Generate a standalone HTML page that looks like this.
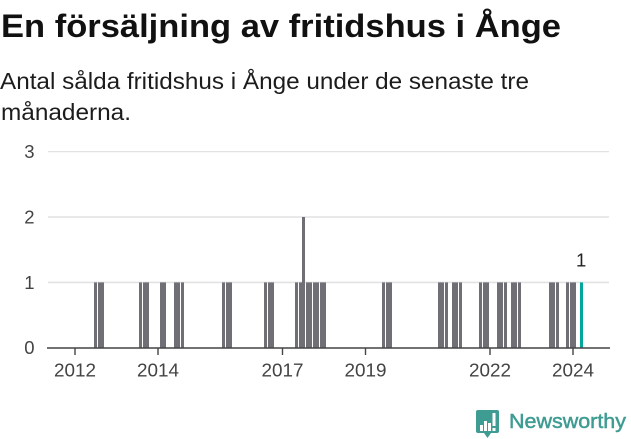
<!DOCTYPE html>
<html lang="sv">
<head>
<meta charset="utf-8">
<title>En försäljning av fritidshus i Ånge</title>
<style>
html,body{margin:0;padding:0;background:#fff;}
body{width:631px;height:439px;overflow:hidden;font-family:"Liberation Sans",sans-serif;}
svg{display:block;}
text{font-family:"Liberation Sans",sans-serif;}
</style>
</head>
<body>
<svg id="chart" xmlns="http://www.w3.org/2000/svg" width="631" height="439" viewBox="0 0 631 439">
  <text x="1" y="37" font-size="32.500" font-weight="700" fill="#111" textLength="560" lengthAdjust="spacingAndGlyphs">En försäljning av fritidshus i Ånge</text>
  <text x="0" y="89" font-size="23.500" fill="#1c1c1c" textLength="529" lengthAdjust="spacingAndGlyphs">Antal sålda fritidshus i Ånge under de senaste tre</text>
  <text x="1" y="120" font-size="23.500" fill="#1c1c1c" textLength="130" lengthAdjust="spacingAndGlyphs">månaderna.</text>
  <g id="grid"></g>
  <g id="bars"></g>
  <g id="axes"></g>
  <g>
    <path d="M478 410H497Q499 410 499 412V431Q499 433 497 433H491L487.500 438L484 433H478Q476 433 476 431V412Q476 410 478 410Z" fill="#3f9c93"/>
    <rect x="480" y="425" width="3" height="6" fill="#fff"/>
    <rect x="484" y="421" width="3" height="10" fill="#fff"/>
    <rect x="488" y="423" width="3" height="8" fill="#fff"/>
    <rect x="492.500" y="413" width="3" height="13" fill="#fff"/>
    <rect x="492.500" y="428" width="3" height="3" fill="#fff"/>
    <text x="509" y="428" font-size="20.500" fill="#3f9c93" stroke="#3f9c93" stroke-width="0.5" textLength="117" lengthAdjust="spacingAndGlyphs">Newsworthy</text>
  </g>
</svg>
<script>
var months = [
  "2012-07","2012-08","2012-09","2012-10","2012-11","2012-12",
  "2013-01","2013-02","2013-03","2013-04","2013-05","2013-06","2013-07","2013-08","2013-09","2013-10","2013-11","2013-12",
  "2014-01","2014-02","2014-03","2014-04","2014-05","2014-06","2014-07","2014-08","2014-09","2014-10","2014-11","2014-12",
  "2015-01","2015-02","2015-03","2015-04","2015-05","2015-06","2015-07","2015-08","2015-09","2015-10","2015-11","2015-12",
  "2016-01","2016-02","2016-03","2016-04","2016-05","2016-06","2016-07","2016-08","2016-09","2016-10","2016-11","2016-12",
  "2017-01","2017-02","2017-03","2017-04","2017-05","2017-06","2017-07","2017-08","2017-09","2017-10","2017-11","2017-12",
  "2018-01","2018-02","2018-03","2018-04","2018-05","2018-06","2018-07","2018-08","2018-09","2018-10","2018-11","2018-12",
  "2019-01","2019-02","2019-03","2019-04","2019-05","2019-06","2019-07","2019-08","2019-09","2019-10","2019-11","2019-12",
  "2020-01","2020-02","2020-03","2020-04","2020-05","2020-06","2020-07","2020-08","2020-09","2020-10","2020-11","2020-12",
  "2021-01","2021-02","2021-03","2021-04","2021-05","2021-06","2021-07","2021-08","2021-09","2021-10","2021-11","2021-12",
  "2022-01","2022-02","2022-03","2022-04","2022-05","2022-06","2022-07","2022-08","2022-09","2022-10","2022-11","2022-12",
  "2023-01","2023-02","2023-03","2023-04","2023-05","2023-06","2023-07","2023-08","2023-09","2023-10","2023-11","2023-12",
  "2024-01","2024-02","2024-03"
];
var sales = [
  1,1,1,0,0,0,
  0,0,0,0,0,0,0,1,1,1,0,0,
  0,1,1,0,0,1,1,1,0,0,0,0,
  0,0,0,0,0,0,0,1,1,1,0,0,
  0,0,0,0,0,0,0,1,1,1,0,0,
  0,0,0,0,1,1,2,1,1,1,1,1,
  1,0,0,0,0,0,0,0,0,0,0,0,
  0,0,0,0,0,1,1,1,0,0,0,0,
  0,0,0,0,0,0,0,0,0,1,1,1,
  0,1,1,1,0,0,0,0,0,1,1,1,
  0,0,1,1,1,0,1,1,1,0,0,0,
  0,0,0,0,0,1,1,1,0,0,1,1,
  1,0,1
];
var yTicks = [0, 1, 2, 3];
var xTickYears = [2012, 2014, 2017, 2019, 2022, 2024];

var NS = "http://www.w3.org/2000/svg";
function make(parent, tag, attrs, text) {
  var el = document.createElementNS(NS, tag);
  for (var k in attrs) { el.setAttribute(k, attrs[k]); }
  if (text !== undefined) { el.textContent = text; }
  parent.appendChild(el);
  return el;
}
function xBar(i) { return 94.035 + i * 3.472; }
function xYear(year) { return 75 + (year - 2012) * 41.5; }
function yVal(v) { return 347.8 - v * 65.4; }

var grid = document.getElementById("grid");
var bars = document.getElementById("bars");
var axes = document.getElementById("axes");

yTicks.forEach(function (t) {
  var y = yVal(t);
  if (t > 0) {
    var line = make(grid, "line", {x1: 48, x2: 609, y1: y, y2: y, stroke: "#e2e2e2", "stroke-width": t === 3 ? 1.2 : 1.6});
    
    
  }
  var label = make(axes, "text", {x: 34.5, y: y + 6.4, "text-anchor": "end", "font-size": 18.5, fill: "#444"}, String(t));
  
  
});

sales.forEach(function (v, i) {
  if (v <= 0) { return; }
  var left = Math.round(xBar(i));
  var right = Math.round(xBar(i) + 3);
  var top = yVal(v);
  var last = i === sales.length - 1;
  var rect = make(bars, "rect", {x: left, y: top, width: right - left, height: yVal(0) - top, fill: last ? "#00a79a" : "#706f76"});
  
  
});

var baseline = make(axes, "line", {x1: 47, x2: 610, y1: 348, y2: 348, stroke: "#444", "stroke-width": 1.6});



xTickYears.forEach(function (year) {
  var x = xYear(year);
  var tick = make(axes, "line", {x1: x, x2: x, y1: 348, y2: 355, stroke: "#444", "stroke-width": 1.4});
  
  
  var label = make(axes, "text", {x: x - 21, y: 376.500, "font-size": 18.5, fill: "#444", textLength: 42, lengthAdjust: "spacingAndGlyphs"}, String(year));
  
  
});

var lastIndex = sales.length - 1;
var valueLabel = make(axes, "text", {x: xBar(lastIndex) + 1, y: yVal(sales[lastIndex]) - 16, "text-anchor": "middle", "font-size": 18.5, fill: "#222"}, String(sales[lastIndex]));


</script>
</body>
</html>
